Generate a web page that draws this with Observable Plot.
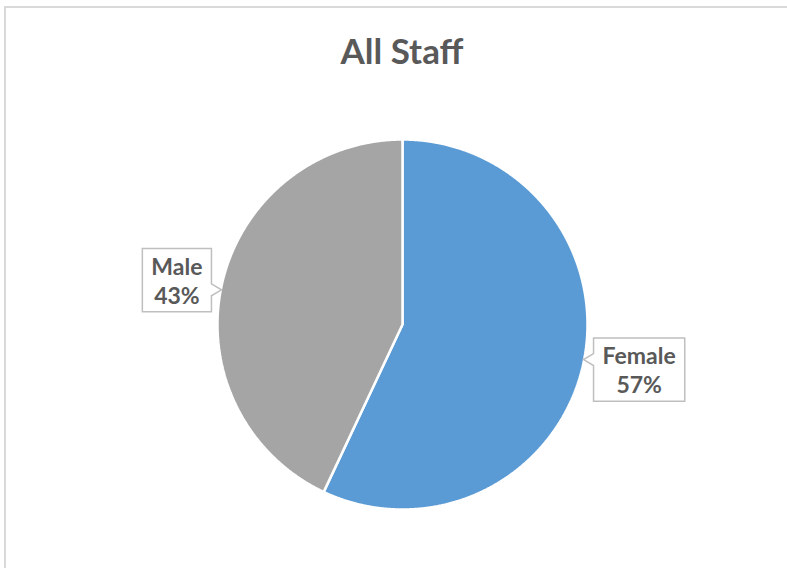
<!DOCTYPE html>
<html>
<head>
<meta charset="utf-8">
<script src="https://cdn.jsdelivr.net/npm/d3@7"></script>
<script src="https://cdn.jsdelivr.net/npm/@observablehq/plot@0.6"></script>
<style>
  html, body { margin: 0; padding: 0; background: #fff; }
  #wrap { position: relative; width: 787px; height: 568px; overflow: hidden; }
  #frame { position: absolute; left: 4px; top: 6px; width: 900px; height: 900px;
           border-left: 2px solid #d9d9d9; border-top: 2px solid #d9d9d9; }
  #title { position: absolute; top: 29px; left: 402px; transform: translateX(-50%);
           font: bold 35px Lato, "Open Sans", sans-serif; color: #595959; white-space: nowrap; }
  #chart { position: absolute; left: 0; top: 0; }
</style>
</head>
<body>
<div id="wrap">
  <div id="frame"></div>
  <div id="chart"></div>
  <div id="title">All Staff</div>
</div>
<script>
const categories = ["Female", "Male"];
const values = [57, 43];
const colors = ["#5B9BD5", "#A5A5A5"];

const data = categories.map((name, i) => ({name, value: values[i]}));
const total = d3.sum(values);
const arcs = d3.pie().sort(null).value(d => d.value)(data);

const pts = arcs.flatMap(s => {
  const n = Math.max(2, Math.ceil((s.endAngle - s.startAngle) / 0.005));
  const arr = [{name: s.data.name, x: 0, y: 0}];
  for (let i = 0; i <= n; i++) {
    const a = s.startAngle + (s.endAngle - s.startAngle) * i / n;
    arr.push({name: s.data.name, x: Math.sin(a), y: Math.cos(a)});
  }
  arr.push({name: s.data.name, x: 0, y: 0});
  return arr;
});

const labels = arcs.map(s => {
  const m = (s.startAngle + s.endAngle) / 2;
  const r = 1.108;
  return {
    name: s.data.name,
    x: r * Math.sin(m),
    y: r * Math.cos(m),
    text: s.data.name + "\n" + Math.round(s.data.value / total * 100) + "%"
  };
});

const textOpts = {x: "x", y: "y", text: "text", fontSize: 23, fontWeight: "bold",
  fill: "#595959", fontFamily: "Lato, 'Open Sans', sans-serif", lineHeight: 1.27};

const chart = Plot.plot({
  width: 787,
  height: 568,
  marginLeft: 217,
  marginRight: 200,
  marginTop: 139,
  marginBottom: 59,
  x: {domain: [-1, 1], axis: null},
  y: {domain: [-1, 1], axis: null},
  color: {domain: categories, range: colors},
  style: {background: "transparent", overflow: "visible"},
  marks: [
    Plot.line(pts, {x: "x", y: "y", z: "name", fill: "name", stroke: "white", strokeWidth: 2.5, strokeLinejoin: "miter"}),
    Plot.text(labels.filter(d => d.x < 0), {...textOpts, textAnchor: "end"}),
    Plot.text(labels.filter(d => d.x >= 0), {...textOpts, textAnchor: "start"})
  ]
});
document.getElementById("chart").appendChild(chart);

// callout boxes around labels; lines centred inside the box
const cx = chart.scale("x").apply(0), cy = chart.scale("y").apply(0);
const svg = d3.select(chart);
const firstTextG = svg.select('g[aria-label="text"]').node();
svg.selectAll('g[aria-label="text"] text').each(function() {
  let b = this.getBBox();
  const leftSide = (b.x + this.getCTM().e + b.width / 2) < cx;
  const shift = (leftSide ? -1 : 1) * b.width / 2;
  this.setAttribute("text-anchor", "middle");
  this.setAttribute("transform", (this.getAttribute("transform") || "") + ` translate(${shift},0)`);
  b = this.getBBox();
  const m = this.getCTM();
  const padX = 9, padY = 3;
  const x0 = b.x + m.e - padX, x1 = b.x + b.width + m.e + padX;
  const y0 = b.y + m.f - padY, y1 = b.y + b.height + m.f + padY;
  const my = (y0 + y1) / 2;
  const ny = my + (cy - my) * 0.22;
  const h = 6, t = 10;
  let d;
  if (leftSide) {
    d = `M${x0},${y0}H${x1}V${ny - h}L${x1 + t},${ny}L${x1},${ny + h}V${y1}H${x0}Z`;
  } else {
    d = `M${x0},${y0}H${x1}V${y1}H${x0}V${ny + h}L${x0 - t},${ny}L${x0},${ny - h}Z`;
  }
  const p = document.createElementNS("http://www.w3.org/2000/svg", "path");
  p.setAttribute("d", d);
  p.setAttribute("fill", "white");
  p.setAttribute("stroke", "#bfbfbf");
  p.setAttribute("stroke-width", "1.5");
  firstTextG.parentNode.insertBefore(p, firstTextG);
});
</script>
</body>
</html>
